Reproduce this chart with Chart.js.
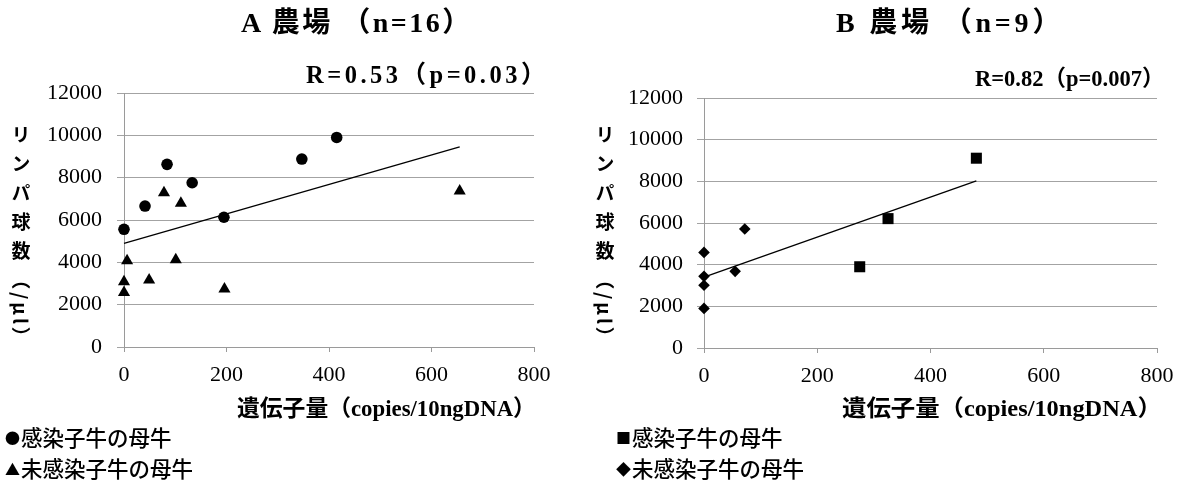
<!DOCTYPE html>
<html lang="ja">
<head>
<meta charset="utf-8">
<title>農場別 遺伝子量とリンパ球数</title>
<script src="https://cdn.jsdelivr.net/npm/chart.js@4.4.1/dist/chart.umd.min.js"></script>
<style>
  html, body { margin: 0; padding: 0; background: #fff; }
  #wrap { position: relative; width: 1185px; height: 481px; overflow: hidden; background: #fff; }
  canvas { position: absolute; top: 0; }
  .t { position: absolute; white-space: nowrap; color: #000; line-height: 1; transform-origin: left center; }
  .title { font: bold 28px "Liberation Serif", "Noto Sans CJK JP", serif; line-height: 1; transform: translateY(-50%); }
  .stat { font-family: "Liberation Serif", "Noto Sans CJK JP", serif; font-weight: bold; transform: translateY(-50%); }
  .xtitle { font: bold 22.8px "Liberation Serif", "Noto Sans CJK JP", serif; line-height: 1; transform: translateY(-50%); }
  .ytitle { font: bold 19px "Noto Sans CJK JP", sans-serif; writing-mode: vertical-rl; text-orientation: mixed;
            letter-spacing: 10px; line-height: 19px; }
  .ytitle .unit { letter-spacing: 3px; }
  .leg { font: 500 21.5px "Noto Sans CJK JP", sans-serif; line-height: 1; transform: translateY(-50%); }
  .leg .sym { font-size: 15px; display: inline-block; width: 16px; vertical-align: 2px; }
</style>
</head>
<body>
<div id="wrap">
  <canvas id="chartA" width="590" height="481" style="left:0"></canvas>
  <canvas id="chartB" width="595" height="481" style="left:590px"></canvas>

  <div class="t title" style="left:241px;top:23px;letter-spacing:2.5px">A 農場 （n=16）</div>
  <div class="t stat" style="left:306px;top:75px;font-size:24.5px;letter-spacing:3.5px">R=0.53（p=0.03）</div>
  <div class="t ytitle" style="left:11.5px;top:125px">リンパ球数<span class="unit">（/μl）</span></div>
  <div class="t xtitle" style="left:237px;top:409px">遺伝子量（copies/10ngDNA）</div>
  <div class="t leg" style="left:5px;top:437px"><span class="sym">●</span>感染子牛の母牛</div>
  <div class="t leg" style="left:5px;top:468px"><span class="sym">▲</span>未感染子牛の母牛</div>

  <div class="t title" style="left:836px;top:23px;letter-spacing:3.8px">B 農場 （n=9）</div>
  <div class="t stat" style="left:975px;top:79px;font-size:22.5px">R=0.82（p=0.007）</div>
  <div class="t ytitle" style="left:595.5px;top:125px">リンパ球数<span class="unit">（/μl）</span></div>
  <div class="t xtitle" style="left:842px;top:409px;transform:translateY(-50%) scaleX(1.07)">遺伝子量（copies/10ngDNA）</div>
  <div class="t leg" style="left:616px;top:437px"><span class="sym">■</span>感染子牛の母牛</div>
  <div class="t leg" style="left:616px;top:468px"><span class="sym">◆</span>未感染子牛の母牛</div>
</div>

<script>
// Axis tick labels shared by both panels
const xTickValues = [0, 200, 400, 600, 800];
const yTickValues = [0, 2000, 4000, 6000, 8000, 10000, 12000];

// A 農場: 感染子牛の母牛 (circles)
const farmA_infected_x = [0, 41, 84, 133, 195, 347, 415];
const farmA_infected_y = [5560, 6660, 8630, 7760, 6130, 8880, 9900];
// A 農場: 未感染子牛の母牛 (triangles)
const farmA_uninfected_x = [0, 0, 6, 49, 78, 101, 111, 196, 655];
const farmA_uninfected_y = [2570, 3080, 4080, 3170, 7290, 4120, 6790, 2740, 7370];
// A 農場: linear trend line endpoints
const farmA_trend_x = [0, 655];
const farmA_trend_y = [4890, 9460];

// B 農場: 感染子牛の母牛 (squares)
const farmB_infected_x = [275, 325, 481];
const farmB_infected_y = [3900, 6210, 9110];
// B 農場: 未感染子牛の母牛 (diamonds)
const farmB_uninfected_x = [0, 0, 0, 0, 55, 72];
const farmB_uninfected_y = [1900, 3010, 3440, 4590, 3680, 5710];
// B 農場: linear trend line endpoints
const farmB_trend_x = [0, 481];
const farmB_trend_y = [3400, 8020];

const gridColor = '#a3a3a3';
const axisColor = '#9a9a9a';

function toPoints(xs, ys) {
  return xs.map((x, i) => ({ x: x, y: ys[i] }));
}

function markerSet(xs, ys, style, radius) {
  return {
    data: toPoints(xs, ys),
    pointStyle: style,
    pointRadius: radius,
    pointHoverRadius: radius,
    pointBackgroundColor: '#000',
    pointBorderColor: '#000',
    pointBorderWidth: 0,
    showLine: false,
    clip: false
  };
}

function trendSet(xs, ys) {
  return {
    data: toPoints(xs, ys),
    showLine: true,
    borderColor: '#000',
    borderWidth: 1.3,
    pointRadius: 0,
    pointHoverRadius: 0,
    fill: false,
    clip: false
  };
}

function buildChart(id, box, datasets) {
  const tickFont = { family: '"Liberation Serif", serif', size: 22 };
  return new Chart(document.getElementById(id), {
    type: 'scatter',
    data: { datasets: datasets },
    options: {
      responsive: false,
      animation: false,
      devicePixelRatio: 1,
      layout: { padding: { top: box.top, right: box.right, left: 0, bottom: 0 } },
      plugins: { legend: { display: false }, tooltip: { enabled: false }, title: { display: false } },
      scales: {
        x: {
          type: 'linear', min: 0, max: 800,
          afterBuildTicks: s => { s.ticks = xTickValues.map(v => ({ value: v })); },
          afterFit: s => { s.height = box.xh; },
          grid: { drawOnChartArea: false, drawTicks: true, tickLength: 5, color: axisColor, lineWidth: 1 },
          border: { display: true, color: axisColor, width: 1 },
          ticks: { font: tickFont, color: '#000', padding: 10, maxRotation: 0, autoSkip: false,
                   callback: v => String(v) }
        },
        y: {
          type: 'linear', min: 0, max: 12000,
          afterBuildTicks: s => { s.ticks = yTickValues.map(v => ({ value: v })); },
          afterFit: s => { s.width = box.yw; },
          grid: { drawOnChartArea: true, drawTicks: true, tickLength: 7, color: gridColor, lineWidth: 1 },
          border: { display: true, color: axisColor, width: 1 },
          ticks: { font: tickFont, color: '#000', padding: box.ypad, autoSkip: false,
                   callback: v => String(v) }
        }
      }
    }
  });
}

buildChart('chartA', { top: 93, right: 56, yw: 124, xh: 134, ypad: 15 }, [
  trendSet(farmA_trend_x, farmA_trend_y),
  markerSet(farmA_infected_x, farmA_infected_y, 'circle', 5.8),
  markerSet(farmA_uninfected_x, farmA_uninfected_y, 'triangle', 7)
]);

buildChart('chartB', { top: 98, right: 28, yw: 114, xh: 133, ypad: 14 }, [
  trendSet(farmB_trend_x, farmB_trend_y),
  markerSet(farmB_infected_x, farmB_infected_y, 'rect', 7.8),
  markerSet(farmB_uninfected_x, farmB_uninfected_y, 'rectRot', 5.8)
]);
</script>
</body>
</html>
